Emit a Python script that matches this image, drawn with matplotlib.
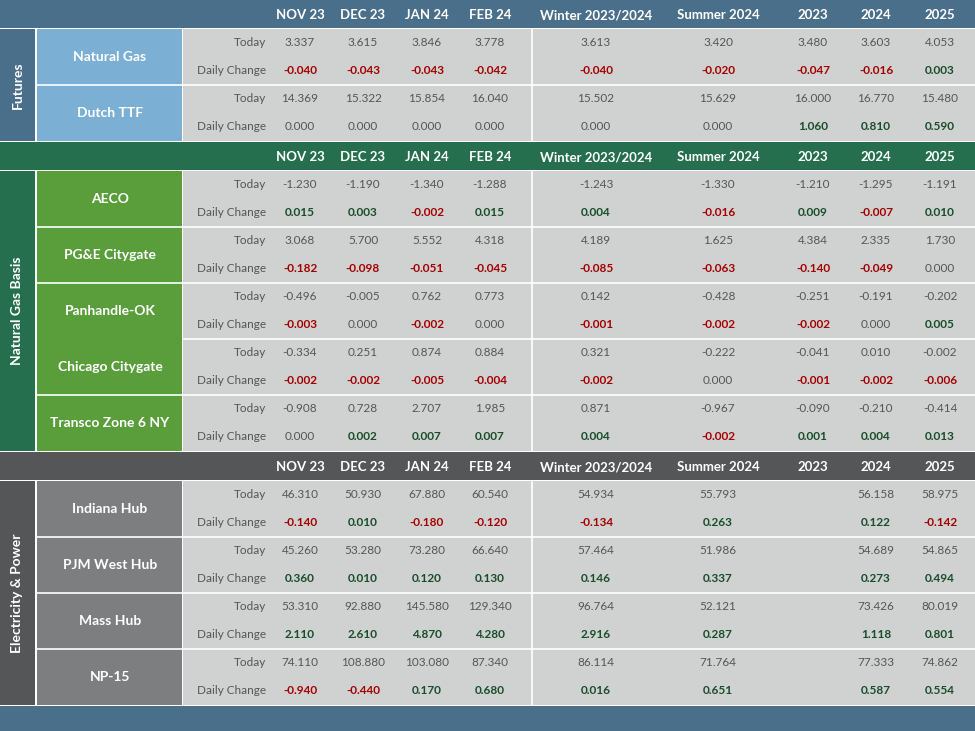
import matplotlib
matplotlib.use("Agg")
import matplotlib.pyplot as plt
from matplotlib.patches import Rectangle

plt.rcParams['font.family'] = ['Lato', 'DejaVu Sans']

columns = ["NOV 23", "DEC 23", "JAN 24", "FEB 24", "Winter 2023/2024", "Summer 2024", "2023", "2024", "2025"]

futures_names = ["Natural Gas", "Dutch TTF"]
futures_today = [
    [3.337, 3.615, 3.846, 3.778, 3.613, 3.420, 3.480, 3.603, 4.053],
    [14.369, 15.322, 15.854, 16.040, 15.502, 15.629, 16.000, 16.770, 15.480],
]
futures_change = [
    [-0.040, -0.043, -0.043, -0.042, -0.040, -0.020, -0.047, -0.016, 0.003],
    [0.000, 0.000, 0.000, 0.000, 0.000, 0.000, 1.060, 0.810, 0.590],
]

basis_names = ["AECO", "PG&E Citygate", "Panhandle-OK", "Chicago Citygate", "Transco Zone 6 NY"]
basis_today = [
    [-1.230, -1.190, -1.340, -1.288, -1.243, -1.330, -1.210, -1.295, -1.191],
    [3.068, 5.700, 5.552, 4.318, 4.189, 1.625, 4.384, 2.335, 1.730],
    [-0.496, -0.005, 0.762, 0.773, 0.142, -0.428, -0.251, -0.191, -0.202],
    [-0.334, 0.251, 0.874, 0.884, 0.321, -0.222, -0.041, 0.010, -0.002],
    [-0.908, 0.728, 2.707, 1.985, 0.871, -0.967, -0.090, -0.210, -0.414],
]
basis_change = [
    [0.015, 0.003, -0.002, 0.015, 0.004, -0.016, 0.009, -0.007, 0.010],
    [-0.182, -0.098, -0.051, -0.045, -0.085, -0.063, -0.140, -0.049, 0.000],
    [-0.003, 0.000, -0.002, 0.000, -0.001, -0.002, -0.002, 0.000, 0.005],
    [-0.002, -0.002, -0.005, -0.004, -0.002, 0.000, -0.001, -0.002, -0.006],
    [0.000, 0.002, 0.007, 0.007, 0.004, -0.002, 0.001, 0.004, 0.013],
]

power_names = ["Indiana Hub", "PJM West Hub", "Mass Hub", "NP-15"]
power_today = [
    [46.310, 50.930, 67.880, 60.540, 54.934, 55.793, None, 56.158, 58.975],
    [45.260, 53.280, 73.280, 66.640, 57.464, 51.986, None, 54.689, 54.865],
    [53.310, 92.880, 145.580, 129.340, 96.764, 52.121, None, 73.426, 80.019],
    [74.110, 108.880, 103.080, 87.340, 86.114, 71.764, None, 77.333, 74.862],
]
power_change = [
    [-0.140, 0.010, -0.180, -0.120, -0.134, 0.263, None, 0.122, -0.142],
    [0.360, 0.010, 0.120, 0.130, 0.146, 0.337, None, 0.273, 0.494],
    [2.110, 2.610, 4.870, 4.280, 2.916, 0.287, None, 1.118, 0.801],
    [-0.940, -0.440, 0.170, 0.680, 0.016, 0.651, None, 0.587, 0.554],
]

W, H = 975, 731
fig = plt.figure(figsize=(W / 100, H / 100), dpi=100)
ax = fig.add_axes([0, 0, 1, 1])
ax.set_xlim(0, W)
ax.set_ylim(H, 0)
ax.axis('off')
fig.patch.set_facecolor('white')

col_x = [300, 363, 427, 490, 596, 718, 813, 876, 940]
BODY = '#d0d2d2'
RH = 28

def rect(x0, y0, x1, y1, color):
    ax.add_patch(Rectangle((x0, y0), x1 - x0, y1 - y0, facecolor=color, edgecolor='none'))

def header(y0, color):
    rect(0, y0, W, y0 + RH, color)
    for c, x in zip(columns, col_x):
        ax.text(x, y0 + RH / 2 + 1, c, ha='center', va='center', color='white',
                fontsize=9.5, fontweight='bold')

def chg_color(v):
    if v < 0:
        return '#a50000'
    if v > 0:
        return '#184d2a'
    return '#555555'

def section(y0, group, gcolor, ncolor, names, today, change, merged=None):
    n = len(names)
    y1 = y0 + n * 2 * RH
    rect(0, y0, 35, y1, gcolor)
    ax.text(17.5, (y0 + y1) / 2, group, rotation=90, ha='center', va='center',
            color='white', fontsize=10, fontweight='bold')
    rect(37, y0, 182, y1, ncolor)
    rect(183, y0, W, y1, BODY)
    for i, name in enumerate(names):
        ty = y0 + i * 2 * RH
        ax.text(110, ty + RH, name, ha='center', va='center', color='white',
                fontsize=10, fontweight='bold')
        ax.text(266, ty + RH / 2, "Today", ha='right', va='center', color='#555555', fontsize=8.5)
        ax.text(266, ty + RH * 1.5, "Daily Change", ha='right', va='center', color='#555555', fontsize=8.5)
        for j, x in enumerate(col_x):
            tv = today[i][j]
            cv = change[i][j]
            if tv is not None:
                ax.text(x, ty + RH / 2, f"{tv:.3f}", ha='center', va='center', color='#555555', fontsize=8.5)
            if cv is not None:
                ax.text(x, ty + RH * 1.5, f"{cv:.3f}", ha='center', va='center', color=chg_color(cv),
                        fontsize=8.5, fontweight='bold' if cv != 0 else 'normal')
        if i > 0 and not (merged and i in merged):
            ax.plot([37, W], [ty, ty], color='white', lw=1.2)
        elif i > 0:
            ax.plot([183, W], [ty, ty], color='white', lw=1.2)
    ax.plot([532, 532], [y0, y1], color='white', lw=1.2)
    return y1

y = 0
header(y, '#4a6f8a')
y = section(RH + 1, "Futures", '#4a6f8a', '#7bafd4', futures_names, futures_today, futures_change)
header(y + 1, '#256f4e')
y = section(y + 2 + RH, "Natural Gas Basis", '#256f4e', '#5a9e3c', basis_names, basis_today, basis_change, merged={3})
header(y + 1, '#555658')
y = section(y + 2 + RH, "Electricity & Power", '#555658', '#7d7e80', power_names, power_today, power_change)
rect(0, y + 1, W, H, '#4a6f8a')

fig.savefig('out.png', dpi=100, facecolor='white')
